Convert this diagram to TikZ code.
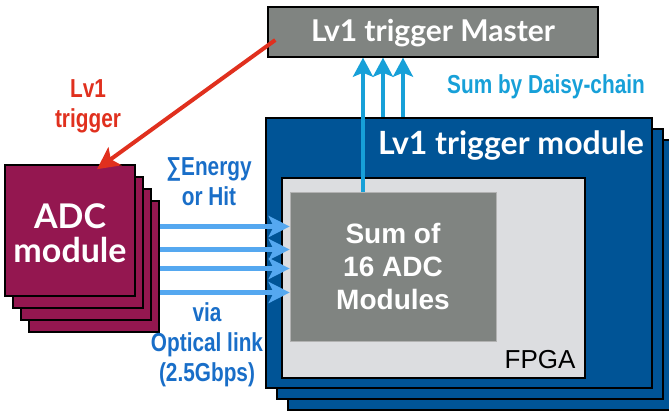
\documentclass[tikz,border=0pt]{standalone}
\usepackage{fontspec}
\setmainfont{Liberation Sans}
\newfontfamily\gillfont{Lato}
\newfontfamily\narrowfont[FakeStretch=0.8]{Liberation Sans}
\usetikzlibrary{arrows.meta,calc}
\definecolor{masterblock}{RGB}{128,132,129}
\definecolor{modblock}{RGB}{0,84,150}
\definecolor{fpgablock}{RGB}{220,221,224}
\definecolor{sumblock}{RGB}{128,132,129}
\definecolor{adcblock}{RGB}{148,23,80}
\definecolor{trigred}{RGB}{224,48,30}
\definecolor{feedblue}{RGB}{85,168,240}
\definecolor{daisyblue}{RGB}{23,160,216}
\definecolor{labelblue}{RGB}{25,110,200}

\tikzset{
  block/.style={draw=black, line width=1.6pt, inner sep=0pt},
  modlayer/.style={block, fill=modblock, minimum width=386pt, minimum height=270pt},
  adclayer/.style={block, fill=adcblock, minimum width=130pt, minimum height=131pt},
  feedarrow/.style={feedblue, line width=5pt, -{Stealth[length=21pt, width=21pt, inset=5pt]}},
  daisyarrow/.style={daisyblue, line width=4pt, -{Stealth[length=19pt, width=20pt, inset=4pt]}},
  trigarrow/.style={trigred, line width=4pt, -{Stealth[length=22pt, width=22pt, inset=5pt]}},
  biglabel/.style={white, align=center, font=\gillfont\bfseries\fontsize{#1}{#1}\selectfont},
  narrowlabel/.style={align=center, font=\narrowfont\bfseries\fontsize{26}{30}\selectfont}
}

\begin{document}
\begin{tikzpicture}[x=1pt, y=-1pt]
  \useasboundingbox (0,0) rectangle (669,413);

  \node[block, line width=1.4pt, fill=masterblock, minimum width=330pt, minimum height=50pt] (master) at (433,32) {};
  \node[biglabel=30] (mastertext) at (433,33) {Lv1 trigger Master};

  \foreach \k in {2,1}
    \node[modlayer] (mod\k) at ({459+11*\k},{253+11*\k}) {};
  \node[modlayer] (mod) at (459,253) {};
  \node[biglabel=32] (modtext) at (511,145) {Lv1 trigger module};

  \node[block, line width=1.4pt, fill=fpgablock, minimum width=303pt, minimum height=200pt] (fpga) at (433.5,278) {};
  \node[anchor=base east, font=\fontsize{26}{30}\selectfont] (fpgatext) at (579,368) {FPGA};
  \node[draw=black!30, line width=0.6pt, fill=sumblock, minimum width=206pt, minimum height=149pt] (sum) at (393,266.5) {};
  \node[white, align=center, font=\bfseries\fontsize{28}{33}\selectfont] (sumtext) at (393,266) {Sum of\\16 ADC\\Modules};

  \foreach \k in {3,2,1}
    \node[adclayer] (adc\k) at ({70+8*\k},{230.5+12*\k}) {};
  \node[adclayer] (adc) at (70,230.5) {};
  \node[biglabel=34] (adctext) at (70,233) {ADC\\module};

  \coordinate (trigout) at ($(master.west)+(8,8)$);
  \coordinate (trigin) at ($(adc.north)+(27,5)$);
  \draw[trigarrow] (trigout) -- (trigin);
  \node[narrowlabel, trigred] (trigtext) at (88,106) {Lv1\\trigger};

  \foreach \dy in {-40,-17,2,26} {
    \coordinate (feed) at ($(adc3.east)+(0,\dy)$);
    \draw[feedarrow] (feed) -- (feed -| sum.west);
  }
  \node[narrowlabel, labelblue] (energytext) at (209,182) {∑Energy\\or Hit};
  \node[narrowlabel, labelblue] (linktext) at (207,345) {via\\Optical link\\(2.5Gbps)};

  \coordinate (daisy1) at ($(master.south)+(-70,0)$);
  \coordinate (daisy2) at ($(master.south)+(-50,0)$);
  \coordinate (daisy3) at ($(master.south)+(-30,0)$);
  \draw[daisyarrow] (daisy1 |- sum.north) -- (daisy1);
  \draw[daisyarrow] (daisy2 |- mod.north) -- (daisy2);
  \draw[daisyarrow] (daisy3 |- mod.north) -- (daisy3);
  \node[narrowlabel, daisyblue] (daisytext) at (546,87) {Sum by Daisy-chain};
\end{tikzpicture}
\end{document}
